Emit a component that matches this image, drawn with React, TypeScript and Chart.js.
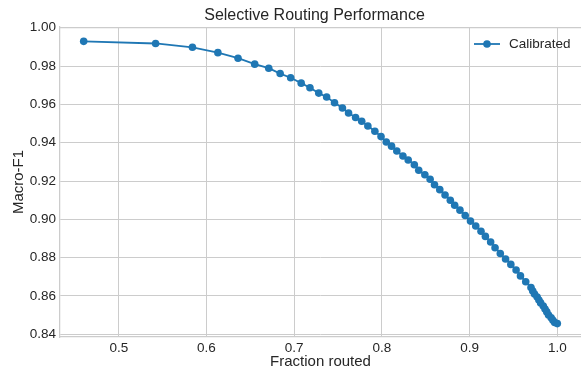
import React, { useEffect, useRef } from "react";
import { Chart, registerables } from "chart.js";

Chart.register(...registerables);

const TITLE = "Selective Routing Performance";
const X_LABEL = "Fraction routed";
const Y_LABEL = "Macro-F1";
const SERIES_NAME = "Calibrated";

const fractionRouted = [
  0.46, 0.542, 0.584, 0.613, 0.636, 0.655, 0.671, 0.684, 0.696, 0.708,
  0.718, 0.728, 0.737, 0.746, 0.755, 0.762, 0.77, 0.777, 0.784, 0.792,
  0.799, 0.805, 0.811, 0.817, 0.824, 0.83, 0.837, 0.842, 0.849, 0.855,
  0.86, 0.866, 0.872, 0.878, 0.883, 0.889, 0.895, 0.901, 0.907, 0.913,
  0.918, 0.924, 0.929, 0.935, 0.941, 0.947, 0.953, 0.958, 0.964, 0.97,
  0.972, 0.974, 0.977, 0.979, 0.981, 0.984, 0.986, 0.988, 0.99, 0.993,
  0.995, 0.997, 1.0,
];

const macroF1 = [
  0.9929, 0.9918, 0.9898, 0.987, 0.9841, 0.981, 0.9789, 0.9761, 0.9739, 0.9711,
  0.9687, 0.9659, 0.9639, 0.9609, 0.9581, 0.9555, 0.9532, 0.9512, 0.9487, 0.946,
  0.9432, 0.9404, 0.9382, 0.9357, 0.9331, 0.931, 0.9285, 0.9256, 0.9233, 0.9209,
  0.9181, 0.9155, 0.9127, 0.91, 0.9074, 0.9048, 0.902, 0.8991, 0.8965, 0.8938,
  0.8911, 0.8882, 0.8852, 0.8822, 0.8793, 0.8765, 0.8736, 0.8705, 0.8674, 0.8644,
  0.8626, 0.861, 0.8595, 0.8579, 0.8564, 0.8548, 0.8532, 0.8517, 0.8501, 0.8486,
  0.8473, 0.8462, 0.8456,
];

const xTicks = [0.5, 0.6, 0.7, 0.8, 0.9, 1.0];
const yTicks = [0.84, 0.86, 0.88, 0.9, 0.92, 0.94, 0.96, 0.98, 1.0];

const BLUE = "#1f77b4";
const GRID = "#cccccc";
const TEXT = "#262626";
const FONT = '"Liberation Sans", Arial, sans-serif';

export default function App() {
  const ref = useRef<HTMLCanvasElement | null>(null);

  useEffect(() => {
    const canvas = ref.current;
    if (!canvas) return;

    const overlay = {
      id: "overlay",
      afterDraw(chart: any) {
        const { ctx, chartArea } = chart;
        const { left, right, top, bottom } = chartArea;
        ctx.save();
        ctx.strokeStyle = GRID;
        ctx.lineWidth = 1.25;
        ctx.beginPath();
        ctx.moveTo(left, top + 0.5);
        ctx.lineTo(right, top + 0.5);
        ctx.stroke();

        ctx.fillStyle = TEXT;
        ctx.textAlign = "center";
        ctx.textBaseline = "middle";
        ctx.font = `16px ${FONT}`;
        ctx.fillText(TITLE, (left + right) / 2 - 6, 16);
        ctx.font = `15px ${FONT}`;
        ctx.fillText(X_LABEL, (left + right) / 2, 362);
        ctx.save();
        ctx.translate(19, (top + bottom) / 2);
        ctx.rotate(-Math.PI / 2);
        ctx.fillText(Y_LABEL, 0, 0);
        ctx.restore();

        const ly = top + 17;
        const lx = right - 107;
        ctx.strokeStyle = BLUE;
        ctx.lineWidth = 1.8;
        ctx.beginPath();
        ctx.moveTo(lx, ly);
        ctx.lineTo(lx + 26, ly);
        ctx.stroke();
        ctx.fillStyle = BLUE;
        ctx.beginPath();
        ctx.arc(lx + 13, ly, 3.8, 0, Math.PI * 2);
        ctx.fill();
        ctx.fillStyle = TEXT;
        ctx.textAlign = "left";
        ctx.font = `13.5px ${FONT}`;
        ctx.fillText(SERIES_NAME, lx + 35, ly);
        ctx.restore();
      },
    };

    const chart = new Chart(canvas, {
      type: "line",
      data: {
        datasets: [
          {
            label: SERIES_NAME,
            data: fractionRouted.map((x, i) => ({ x, y: macroF1[i] })),
            borderColor: BLUE,
            backgroundColor: BLUE,
            borderWidth: 1.8,
            pointRadius: 3.8,
            pointBorderWidth: 0,
            pointBackgroundColor: BLUE,
            tension: 0,
          },
        ],
      },
      options: {
        animation: false,
        responsive: false,
        maintainAspectRatio: false,
        layout: { autoPadding: false, padding: { top: 27, right: 0, left: 0, bottom: 0 } },
        plugins: {
          legend: { display: false },
          title: { display: false },
          tooltip: { enabled: false },
        },
        scales: {
          x: {
            type: "linear",
            min: 0.433,
            max: 1.027,
            afterBuildTicks: (scale: any) => {
              scale.ticks = xTicks.map((v) => ({ value: v }));
            },
            afterFit: (scale: any) => {
              scale.height = 33;
              scale.paddingLeft = 0;
              scale.paddingRight = 0;
            },
            ticks: {
              color: TEXT,
              font: { family: FONT, size: 13.5 },
              padding: 3,
              maxRotation: 0,
              autoSkip: false,
              callback: (v: any) => Number(v).toFixed(1),
            },
            grid: { color: GRID, lineWidth: 1, drawTicks: false },
            border: { color: GRID, width: 1.25 },
          },
          y: {
            type: "linear",
            min: 0.8386,
            max: 1.0004,
            afterBuildTicks: (scale: any) => {
              scale.ticks = yTicks.map((v) => ({ value: v }));
            },
            afterFit: (scale: any) => {
              scale.width = 60;
              scale.paddingTop = 0;
              scale.paddingBottom = 0;
            },
            ticks: {
              color: TEXT,
              font: { family: FONT, size: 13.5 },
              padding: 4,
              autoSkip: false,
              callback: (v: any) => Number(v).toFixed(2),
            },
            grid: { color: GRID, lineWidth: 1, drawTicks: false },
            border: { color: GRID, width: 1.25 },
          },
        },
      },
      plugins: [overlay],
    });

    return () => chart.destroy();
  }, []);

  return (
    <div style={{ position: "fixed", left: 0, top: 0, width: 581, height: 370, background: "#fff" }}>
      <canvas ref={ref} width={581} height={370} style={{ display: "block", width: 581, height: 370 }} />
    </div>
  );
}
